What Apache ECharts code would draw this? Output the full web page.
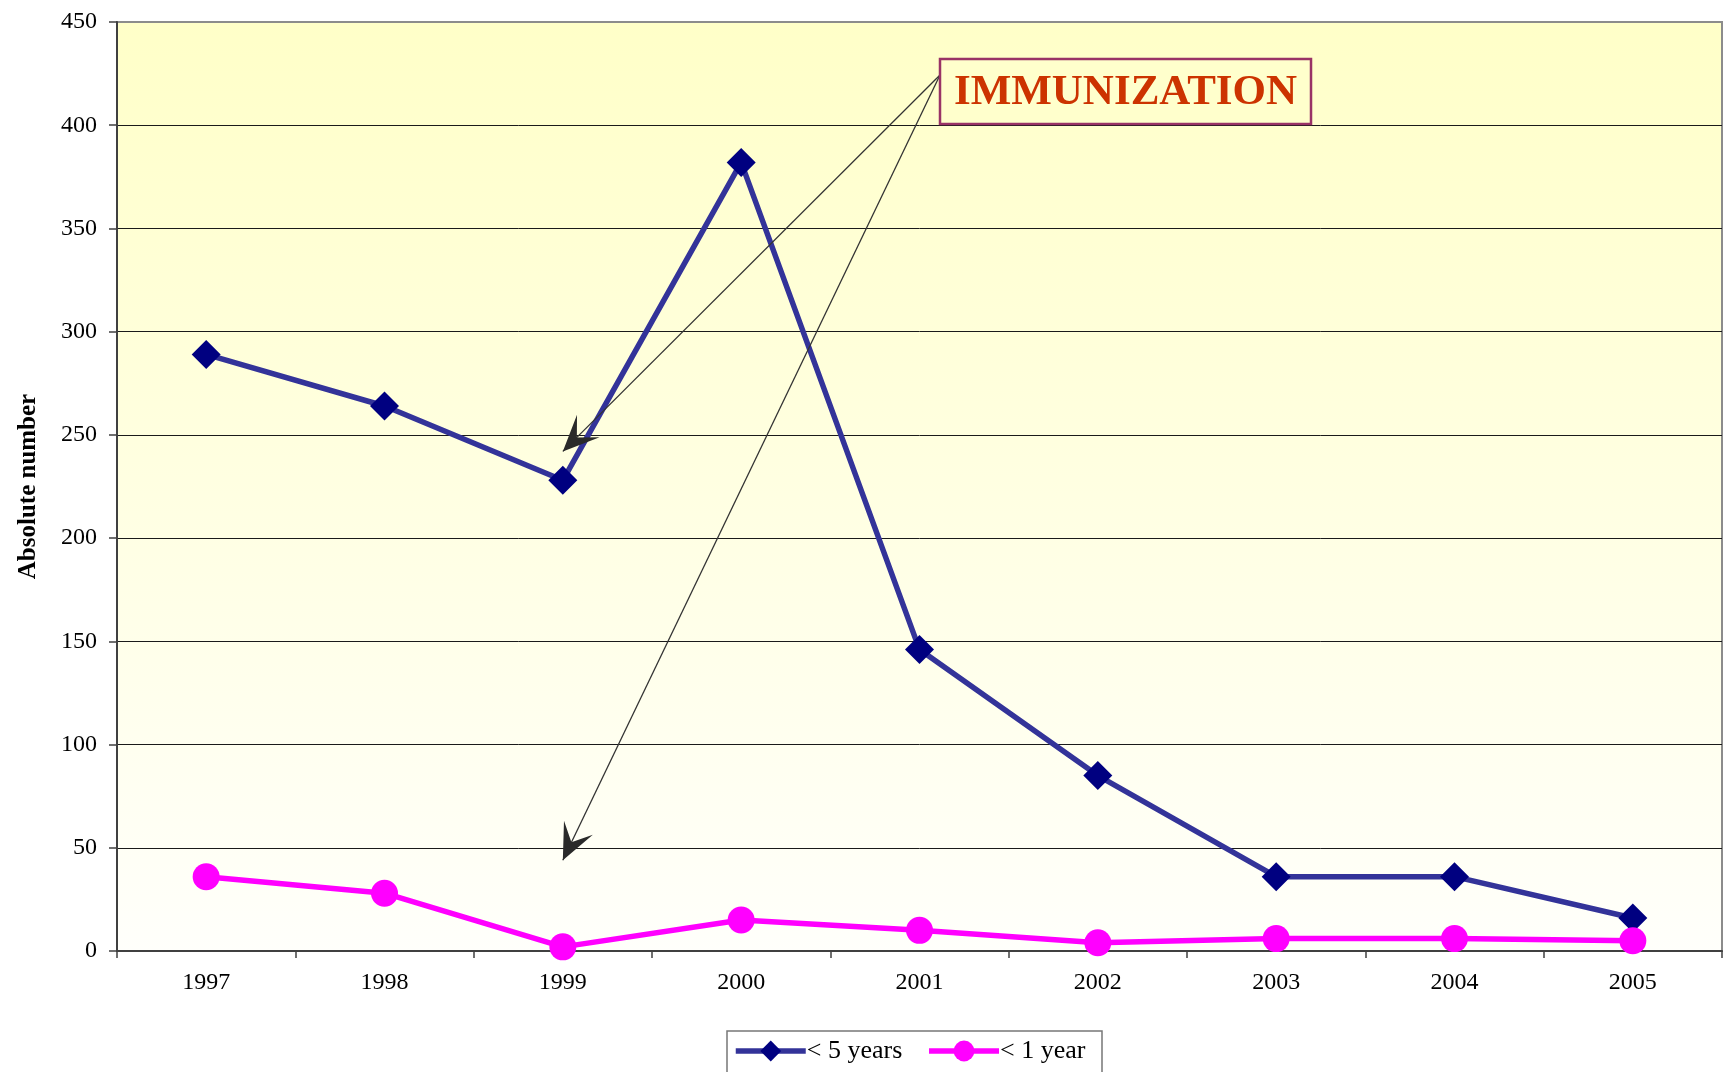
<!DOCTYPE html>
<html>
<head>
<meta charset="utf-8">
<title>Absolute number</title>
<script src="https://cdn.jsdelivr.net/npm/echarts@6/dist/echarts.min.js"></script>
<style>
  html, body { margin: 0; padding: 0; background: #ffffff; }
  #main { width: 1734px; height: 1072px; }
</style>
</head>
<body>
<div id="main"></div>
<script>
let years = ['1997', '1998', '1999', '2000', '2001', '2002', '2003', '2004', '2005'];
let under5 = [289, 264, 228, 382, 146, 85, 36, 36, 16];
let under1 = [36, 28, 2, 15, 10, 4, 6, 6, 5];
let yTicks = [0, 50, 100, 150, 200, 250, 300, 350, 400, 450];
// where the two arrows of the note point: [category index, value]
let arrowTargets = [[2, 242], [1.92, 44]];

let serif = '"Liberation Serif", "DejaVu Serif", serif';
let myChart = echarts.init(document.getElementById('main'));

// split lines black, the top one grey like the frame
let splitColors = yTicks.map(function (v, i) { return i === yTicks.length - 1 ? '#8c8c8c' : '#1a1a1a'; });

let option = {
    backgroundColor: '#ffffff',
    animation: false,
    grid: {
        left: 117, right: 12, top: 22, bottom: 121,
        show: true,
        borderColor: '#8c8c8c',
        borderWidth: 2,
        backgroundColor: new echarts.graphic.LinearGradient(0, 0, 0, 1, [
            {offset: 0, color: '#ffffc8'},
            {offset: 1, color: '#fffffb'}
        ])
    },
    legend: {
        top: 1038,
        left: 733,
        padding: 0,
        itemGap: 24,
        itemWidth: 70,
        itemHeight: 26,
        lineStyle: { width: 5.5 },
        textStyle: { fontFamily: serif, fontSize: 26, color: '#000000', padding: [0, 0, 0, -4] },
        data: ['< 5 years', '< 1 year']
    },
    xAxis: {
        type: 'category',
        data: years,
        boundaryGap: true,
        axisLine: { lineStyle: { color: '#404040', width: 2 } },
        axisTick: { show: true, alignWithLabel: false, length: 7, lineStyle: { color: '#404040', width: 1.5 } },
        axisLabel: { fontFamily: serif, fontSize: 24, color: '#000000', margin: 20 },
        splitLine: { show: false }
    },
    yAxis: {
        type: 'value',
        min: 0, max: 450, interval: 50,
        name: 'Absolute number',
        nameLocation: 'middle',
        nameGap: 76,
        nameTextStyle: { fontFamily: serif, fontSize: 25, fontWeight: 'bold', color: '#000000' },
        axisLine: { show: true, lineStyle: { color: '#404040', width: 2 } },
        axisTick: { show: true, length: 8, lineStyle: { color: '#404040', width: 1.5 } },
        axisLabel: { fontFamily: serif, fontSize: 24, color: '#000000', margin: 20 },
        splitLine: { show: true, lineStyle: { color: splitColors, width: 1 } }
    },
    series: [
        {
            name: '< 5 years',
            type: 'line',
            data: under5,
            symbol: 'diamond',
            symbolSize: 29,
            lineStyle: { color: '#333399', width: 5.5 },
            itemStyle: { color: '#000080' },
            z: 3
        },
        {
            name: '< 1 year',
            type: 'line',
            data: under1,
            symbol: 'circle',
            symbolSize: 27,
            lineStyle: { color: '#ff00ff', width: 5.5 },
            itemStyle: { color: '#ff00ff' },
            z: 3
        }
    ]
};
myChart.setOption(option);

// note box with the two arrows
let box = { x: 940, y: 59, w: 371, h: 65 };
let start = [box.x, box.y + 16];

function arrowHead(from, tip) {
    let dx = tip[0] - from[0], dy = tip[1] - from[1];
    let len = Math.sqrt(dx * dx + dy * dy);
    let ux = dx / len, uy = dy / len;
    let nx = -uy, ny = ux;
    let L = 36, W = 16;
    return [
        tip,
        [tip[0] - L * ux + W * nx, tip[1] - L * uy + W * ny],
        [tip[0] - 0.55 * L * ux, tip[1] - 0.55 * L * uy],
        [tip[0] - L * ux - W * nx, tip[1] - L * uy - W * ny]
    ];
}

let elements = [];
arrowTargets.forEach(function (t) {
    let tip = myChart.convertToPixel({ gridIndex: 0 }, [t[0], t[1]]);
    elements.push({
        type: 'line',
        shape: { x1: start[0], y1: start[1], x2: tip[0], y2: tip[1] },
        style: { stroke: '#333333', lineWidth: 1.3 },
        z: 10
    });
    elements.push({
        type: 'polygon',
        shape: { points: arrowHead(start, tip) },
        style: { fill: '#2a2a2a' },
        z: 10
    });
});
elements.push({
    type: 'rect',
    shape: { x: box.x, y: box.y, width: box.w, height: box.h },
    style: { fill: '#ffffcc', stroke: '#993366', lineWidth: 2.5 },
    z: 11
});
elements.push({
    type: 'text',
    x: box.x + box.w / 2,
    y: box.y + box.h / 2 + 1,
    style: {
        text: 'IMMUNIZATION',
        fontFamily: serif,
        fontWeight: 'bold',
        fontSize: 43,
        fill: '#cc3300',
        align: 'center',
        verticalAlign: 'middle',
        textShadowColor: '#000000',
        textShadowOffsetX: 2.5,
        textShadowOffsetY: 2.5,
        textShadowBlur: 0
    },
    z: 12
});
// legend frame
elements.push({
    type: 'rect',
    shape: { x: 727, y: 1031, width: 375, height: 60 },
    style: { fill: 'none', stroke: '#777777', lineWidth: 1.5 },
    z: 1
});
myChart.setOption({ graphic: { elements: elements } });
</script>
</body>
</html>
